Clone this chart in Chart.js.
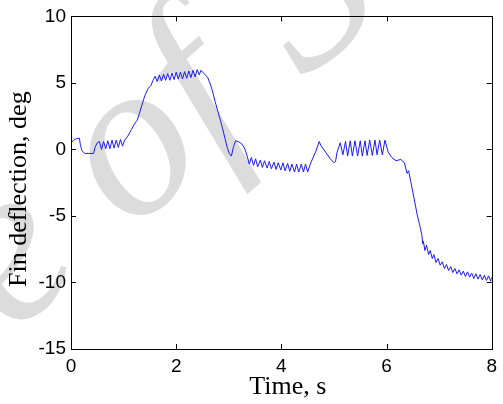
<!DOCTYPE html>
<html>
<head>
<meta charset="utf-8">
<script src="https://cdn.jsdelivr.net/npm/chart.js@4.4.1/dist/chart.umd.min.js"></script>
<style>
  html, body { margin: 0; padding: 0; background: #fff; }
  #c { display: block; }
</style>
</head>
<body>
<canvas id="c" width="503" height="404"></canvas>
<script>
// Time samples (s)
const timeS = [
  0.00, 0.05, 0.10, 0.16, 0.18, 0.21, 0.26, 0.35, 0.43, 0.46, 0.50, 0.54,
  0.58, 0.62, 0.66, 0.70, 0.74, 0.78, 0.82, 0.86, 0.90, 0.94, 0.98, 1.02,
  1.08, 1.15, 1.22, 1.26, 1.30, 1.36, 1.41, 1.47, 1.52, 1.56, 1.60,
  1.64, 1.68, 1.72, 1.76, 1.80, 1.84, 1.88, 1.92, 1.96, 2.00, 2.04, 2.08,
  2.12, 2.16, 2.20, 2.24, 2.28, 2.32, 2.36, 2.40, 2.44, 2.47,
  2.53, 2.60, 2.65, 2.69, 2.74, 2.79, 2.84, 2.88, 2.93, 2.97, 3.01, 3.05,
  3.09, 3.13, 3.18, 3.25, 3.30,
  3.35, 3.39, 3.43, 3.47, 3.51, 3.55, 3.60, 3.64, 3.68, 3.73, 3.77, 3.81,
  3.86, 3.90, 3.94, 3.99, 4.03, 4.07, 4.12, 4.16, 4.20, 4.25, 4.29, 4.33,
  4.38, 4.42, 4.46, 4.50,
  4.56, 4.65, 4.72, 4.75, 4.84, 4.93, 5.00, 5.03, 5.06, 5.12,
  5.17, 5.22, 5.26, 5.31, 5.35, 5.40, 5.45, 5.50, 5.54, 5.59, 5.63, 5.68,
  5.73, 5.78, 5.82, 5.87, 5.92, 5.97,
  6.03, 6.10, 6.18, 6.27, 6.34, 6.39, 6.42, 6.46, 6.52, 6.58, 6.64, 6.67,
  6.69, 6.70,
  6.73, 6.76, 6.80, 6.83, 6.87, 6.90, 6.94, 6.98, 7.02, 7.06, 7.10, 7.14,
  7.18, 7.22, 7.26, 7.30, 7.34, 7.38, 7.42, 7.46, 7.50, 7.54, 7.58, 7.62,
  7.66, 7.70, 7.74, 7.78, 7.82, 7.86, 7.90, 7.94, 7.98, 8.00
];

// Fin deflection (deg) at each time sample
const finDeg = [
  0.5, 0.7, 0.8, 0.85, 0.3, -0.1, -0.3, -0.3, -0.3, 0.2, 0.5, 0.6,
  0.0, 0.6, 0.05, 0.65, 0.05, 0.7, 0.1, 0.7, 0.15, 0.75, 0.25, 0.7,
  1.0, 1.5, 2.0, 2.2, 2.7, 3.5, 4.1, 4.6, 4.8, 5.2, 5.5,
  5.1, 5.6, 5.15, 5.65, 5.2, 5.7, 5.2, 5.75, 5.25, 5.8, 5.3, 5.8,
  5.3, 5.85, 5.35, 5.9, 5.4, 5.95, 5.45, 6.0, 5.6, 5.95,
  5.7, 5.4, 4.9, 4.4, 3.6, 2.9, 2.2, 1.6, 0.8, 0.15, -0.3, -0.5,
  0.2, 0.65, 0.6, 0.4, 0.1,
  -0.5, -1.1, -0.6, -1.2, -0.7, -1.3, -0.8, -1.35, -0.85, -1.4, -0.9, -1.45,
  -0.95, -1.5, -1.0, -1.55, -1.0, -1.6, -1.05, -1.65, -1.1, -1.7, -1.1, -1.7,
  -1.1, -1.7, -1.1, -1.7,
  -1.0, -0.2, 0.6, 0.3, -0.2, -0.7, -1.0, -0.9, -0.2, 0.5,
  -0.4, 0.6, -0.5, 0.65, -0.5, 0.65, -0.5, 0.65, -0.5, 0.65, -0.45, 0.7,
  -0.45, 0.7, -0.4, 0.7, -0.4, 0.7,
  -0.2, -0.6, -0.85, -0.75, -1.0, -1.8, -1.6, -2.4, -3.6, -4.85, -5.85, -6.4,
  -7.1, -6.9,
  -7.6, -7.2, -7.9, -7.6, -8.2, -7.9, -8.5, -8.2, -8.7, -8.45, -8.95, -8.65,
  -9.1, -8.8, -9.25, -8.95, -9.35, -9.05, -9.45, -9.15, -9.55, -9.2, -9.6, -9.3,
  -9.7, -9.35, -9.75, -9.4, -9.8, -9.45, -9.85, -9.5, -9.9, -9.6
];

const xTicks = [0, 2, 4, 6, 8];
const yTicks = [-15, -10, -5, 0, 5, 10];

// Light watermark behind everything
const watermark = {
  id: 'watermark',
  beforeDraw(chart) {
    const ctx = chart.ctx;
    ctx.save();
    ctx.translate(200, 172);
    ctx.rotate(-41 * Math.PI / 180);
    ctx.font = 'italic 225px "Liberation Serif"';
    ctx.fillStyle = '#dcdcdc';
    ctx.textAlign = 'center';
    ctx.textBaseline = 'alphabetic';
    ctx.fillText('e of S', 0, 0);
    ctx.restore();
  }
};

// Box around the axes with inward tick marks
const axesBox = {
  id: 'axesBox',
  afterDatasetsDraw(chart) {
    const { ctx, chartArea: a, scales: { x, y } } = chart;
    ctx.save();
    ctx.strokeStyle = '#000';
    ctx.lineWidth = 1;
    ctx.beginPath();
    xTicks.forEach(v => {
      const px = Math.round(x.getPixelForValue(v)) + 0.5;
      ctx.moveTo(px, a.bottom); ctx.lineTo(px, a.bottom - 5);
      ctx.moveTo(px, a.top); ctx.lineTo(px, a.top + 5);
    });
    yTicks.forEach(v => {
      const py = Math.round(y.getPixelForValue(v)) + 0.5;
      ctx.moveTo(a.left, py); ctx.lineTo(a.left + 5, py);
      ctx.moveTo(a.right, py); ctx.lineTo(a.right - 5, py);
    });
    ctx.stroke();
    ctx.strokeRect(Math.round(a.left) + 0.5, Math.round(a.top) + 0.5,
      Math.round(a.right - a.left), Math.round(a.bottom - a.top));
    ctx.restore();
  }
};

new Chart(document.getElementById('c'), {
  type: 'line',
  data: {
    datasets: [{
      data: timeS.map((t, i) => ({ x: t, y: finDeg[i] })),
      borderColor: '#1a1aff',
      borderWidth: 1,
      pointRadius: 0,
      tension: 0
    }]
  },
  options: {
    responsive: false,
    animation: false,
    devicePixelRatio: 1,
    layout: { padding: { top: 15, right: 4, left: 0, bottom: 0 } },
    plugins: { legend: { display: false }, tooltip: { enabled: false } },
    scales: {
      x: {
        type: 'linear', min: 0, max: 8,
        afterBuildTicks: s => { s.ticks = xTicks.map(v => ({ value: v })); },
        afterFit: s => { s.height = 55; },
        grid: { display: false, drawTicks: false },
        border: { display: false },
        ticks: { color: '#000', padding: 6, font: { family: '"Liberation Sans"', size: 19 } },
        title: { display: true, text: '  Time, s', color: '#000',
                 font: { family: '"Liberation Serif"', size: 26 }, padding: { top: 0, bottom: 1 } }
      },
      y: {
        type: 'linear', min: -15, max: 10,
        afterBuildTicks: s => { s.ticks = yTicks.map(v => ({ value: v })); },
        afterFit: s => { s.width = 71; },
        grid: { display: false, drawTicks: false },
        border: { display: false },
        ticks: { color: '#000', padding: 5, font: { family: '"Liberation Sans"', size: 19 } },
        title: { display: true, text: 'Fin deflection, deg  ', color: '#000',
                 font: { family: '"Liberation Serif"', size: 26 }, padding: { top: 4, bottom: 0 } }
      }
    }
  },
  plugins: [watermark, axesBox]
});
</script>
</body>
</html>
